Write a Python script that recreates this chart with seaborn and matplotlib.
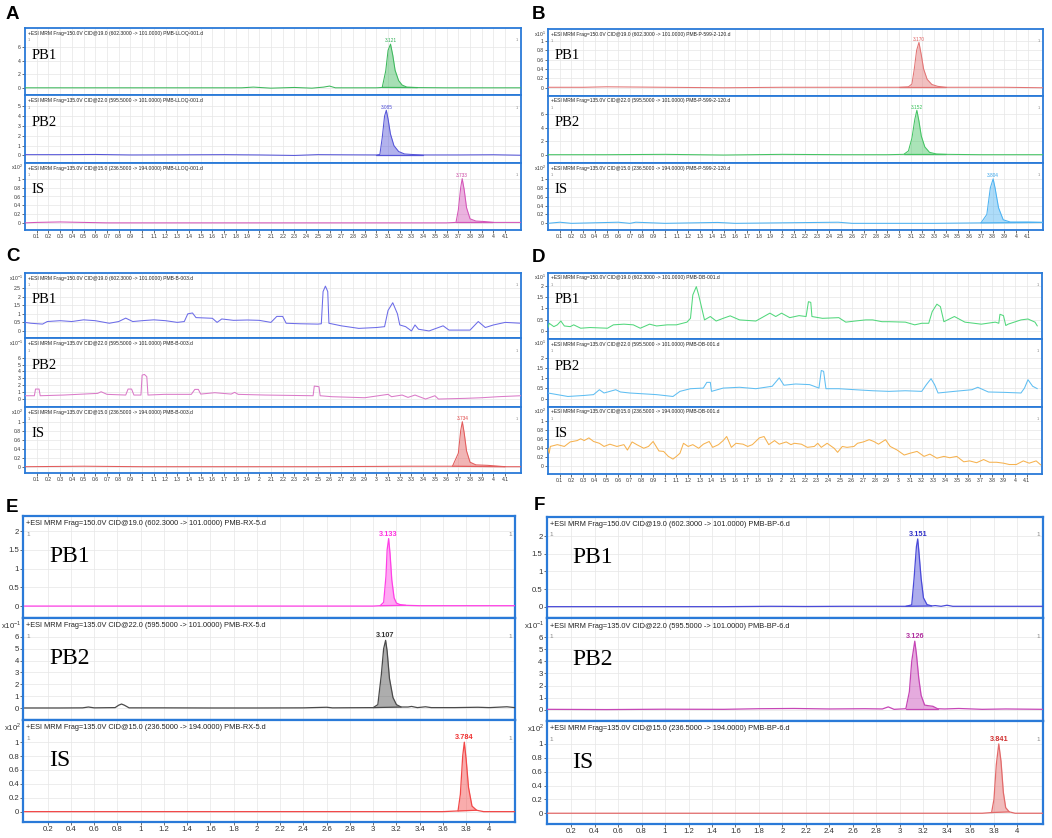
import numpy as np
import matplotlib.pyplot as plt
import seaborn as sns

# ---- chromatogram traces: retention time (min), intensity ----
# Panel A  (PMB-LLOQ-001)
a_pb1_t = [0, 0.5, 1.0, 1.5, 1.85, 1.95, 2.1, 2.3, 2.45, 2.55, 2.6, 2.65, 2.8, 3.0, 3.05,
           3.08, 3.1, 3.121, 3.14, 3.16, 3.19, 3.22, 3.26, 3.35, 3.6, 3.9, 4.235]
a_pb1_y = [0.05, 0.05, 0.05, 0.05, 0.05, 0.15, 0.0, 0.1, 0.0, 0.15, 0.3, 0.05, 0.05, 0.05, 0.1,
           2.5, 5.5, 6.4, 4.8, 2.6, 1.1, 0.45, 0.15, 0.08, 0.05, 0.05, 0.05]
a_pb2_t = [0, 0.3, 0.6, 0.9, 1.3, 1.7, 2.0, 2.3, 2.5, 2.8, 3.0, 3.03, 3.05, 3.07, 3.085,
           3.1, 3.12, 3.15, 3.19, 3.24, 3.3, 3.4, 3.7, 4.0, 4.235]
a_pb2_y = [0.08, 0.08, 0.1, 0.05, 0.06, 0.08, 0.05, 0.0, 0.08, 0.06, 0.05, 0.1, 1.8, 4.0, 4.6,
           3.7, 2.2, 1.0, 0.4, 0.15, 0.1, 0.05, 0.05, 0.07, 0.02]
a_is_t = [0, 0.1, 0.3, 0.5, 0.7, 1.5, 2.5, 3.3, 3.6, 3.68, 3.7, 3.72, 3.733, 3.75, 3.77,
          3.8, 3.85, 3.92, 4.0, 4.235]
a_is_y = [0.01, 0.02, 0.03, 0.02, 0.01, 0.01, 0.01, 0.01, 0.01, 0.02, 0.3, 0.8, 1.0, 0.75, 0.35,
          0.1, 0.05, 0.04, 0.02, 0.02]
a_rt = [3.121, 3.085, 3.733]

# Panel B  (PMB-P-599-2-120)
b_pb1_t = [0, 0.3, 0.5, 1.0, 1.5, 2.0, 2.5, 3.0, 3.08, 3.11, 3.13, 3.15, 3.17, 3.19, 3.21,
           3.24, 3.28, 3.33, 3.4, 3.6, 3.9, 4.235]
b_pb1_y = [0.01, 0.01, 0.02, 0.01, 0.0, 0.01, 0.01, 0.01, 0.02, 0.08, 0.4, 0.8, 0.97, 0.7, 0.4,
           0.18, 0.07, 0.03, 0.01, 0.01, 0.01, 0.0]
b_pb2_t = [0, 0.5, 1.0, 1.5, 2.0, 2.5, 2.9, 3.04, 3.08, 3.11, 3.135, 3.152, 3.17, 3.19, 3.22,
           3.26, 3.32, 3.4, 3.7, 4.0, 4.235]
b_pb2_y = [0.05, 0.05, 0.1, 0.0, 0.1, 0.05, 0.05, 0.1, 0.6, 2.5, 5.3, 6.6, 5.0, 2.8, 1.2,
           0.4, 0.15, 0.1, 0.05, 0.05, 0.05]
b_is_t = [0, 0.1, 0.2, 0.6, 0.7, 0.75, 1.0, 1.45, 1.6, 2.48, 2.6, 3.3, 3.7, 3.75, 3.78,
          3.804, 3.82, 3.85, 3.89, 3.95, 4.1, 4.235]
b_is_y = [0.0, 0.025, 0.0, 0.025, 0.0, 0.025, 0.0, 0.02, 0.0, 0.025, 0.0, 0.0, 0.01, 0.2, 0.8,
          1.0, 0.8, 0.35, 0.08, 0.03, 0.03, 0.02]
b_rt = [3.170, 3.152, 3.804]

# Panel C  (PMB-B-003)
c_pb1_t = [0.0, 0.05, 0.15, 0.19, 0.3, 0.4, 0.5, 0.6, 0.72, 0.8, 0.86, 0.92, 1.0, 1.1, 1.2,
           1.3, 1.36, 1.39, 1.43, 1.46, 1.6, 1.64, 1.68, 1.78, 1.9, 2.0, 2.1, 2.15, 2.2, 2.23,
           2.35, 2.5, 2.53, 2.545, 2.565, 2.585, 2.595, 2.7, 2.85, 3.0, 3.07, 3.1, 3.14, 3.18,
           3.2, 3.25, 3.3, 3.33, 3.36, 3.45, 3.57, 3.62, 3.8, 3.87, 3.93, 4.0, 4.1, 4.235]
c_pb1_y = [0.5, 0.45, 0.4, 0.55, 0.6, 0.55, 0.65, 0.6, 0.45, 0.55, 0.75, 0.55, 0.6, 0.65, 0.6,
           0.5, 0.55, 1.0, 1.05, 0.78, 0.74, 0.5, 0.7, 0.62, 0.64, 0.62, 0.5, 0.85, 0.85, 0.45,
           0.42, 0.4, 0.42, 2.3, 2.62, 2.3, 0.45, 0.3, 0.15, 0.2, 0.25, 1.2, 1.65, 1.0,
           0.35, 0.25, 0.0, 0.35, 0.1, 0.0, 0.3, 0.05, 0.05, 0.55, 0.2, 0.35, 0.5, 0.45]
c_pb2_t = [0.0, 0.08, 0.09, 0.12, 0.13, 0.33, 0.62, 0.65, 0.7, 0.86, 0.88, 0.91, 0.93, 0.99,
           1.0, 1.02, 1.04, 1.05, 1.19, 1.42, 1.45, 1.48, 1.5, 1.62, 1.76, 1.79, 1.82, 2.05,
           2.46, 2.47, 2.51, 2.52, 2.62, 2.9, 3.1, 3.13, 3.22, 3.27, 3.33, 3.42, 3.5, 3.53,
           3.76, 3.9, 4.04, 4.235]
c_pb2_y = [0.48, 0.48, 1.45, 1.45, 0.48, 0.58, 0.82, 1.06, 0.68, 0.58, 1.45, 1.45, 0.58, 0.58,
           3.48, 3.57, 3.24, 0.58, 0.68, 0.68, 1.4, 1.4, 0.72, 0.92, 0.72, 0.97, 0.68, 0.58,
           0.48, 1.88, 1.79, 0.48, 0.34, 0.19, 0.68, 0.34, 0.58, 0.24, 0.58, 0.0, 0.48, 0.0,
           0.1, 0.19, 0.34, 0.48]
c_is_t = [0, 0.5, 1.0, 1.5, 2.5, 3.3, 3.65, 3.7, 3.72, 3.734, 3.75, 3.77, 3.8, 3.85, 3.95,
          4.1, 4.235]
c_is_y = [0.0, 0.01, 0.0, 0.0, 0.0, 0.01, 0.01, 0.3, 0.8, 1.0, 0.75, 0.35, 0.1, 0.04, 0.03,
          0.0, 0.0]
c_rt = [None, None, 3.734]

# Panel D  (PMB-DB-001)
d_pb1_t = [0.0, 0.01, 0.05, 0.08, 0.11, 0.14, 0.19, 0.22, 0.28, 0.36, 0.51, 0.56, 0.65, 0.73,
           0.79, 0.87, 0.93, 1.02, 1.1, 1.19, 1.22, 1.24, 1.27, 1.29, 1.31, 1.34, 1.39, 1.44,
           1.5, 1.56, 1.64, 1.78, 1.9, 1.95, 2.0, 2.07, 2.15, 2.21, 2.23, 2.25, 2.26, 2.35,
           2.49, 2.55, 2.63, 2.72, 2.78, 2.86, 2.92, 3.06, 3.14, 3.2, 3.26, 3.29, 3.33, 3.36,
           3.39, 3.48, 3.57, 3.71, 3.83, 3.86, 3.87, 3.9, 3.92, 3.94, 4.05, 4.11, 4.17, 4.19]
d_pb1_y = [0.15, 0.34, 0.19, 0.27, 0.44, 0.22, 0.19, 0.27, 0.12, 0.15, 0.12, 0.27, 0.3, 0.27,
           0.12, 0.3, 0.22, 0.27, 0.27, 0.39, 0.56, 1.6, 1.97, 1.6, 1.16, 0.49, 0.64, 0.44,
           0.56, 0.67, 0.49, 0.44, 0.79, 0.64, 0.79, 0.59, 0.68, 0.64, 1.3, 1.27, 0.64, 0.56,
           0.59, 0.39, 0.44, 0.49, 0.49, 0.41, 0.41, 0.39, 0.27, 0.34, 0.34, 0.86, 1.19, 1.08,
           0.41, 0.64, 0.39, 0.3, 0.39, 0.34, 0.74, 0.68, 0.24, 0.3, 0.49, 0.53, 0.39, 0.22]
d_pb2_t = [0.0, 0.08, 0.17, 0.31, 0.39, 0.44, 0.48, 0.53, 0.58, 0.62, 0.7, 0.93, 1.07, 1.13,
           1.22, 1.33, 1.36, 1.39, 1.4, 1.5, 1.64, 1.78, 1.92, 1.98, 2.02, 2.12, 2.24, 2.32,
           2.34, 2.36, 2.38, 2.49, 2.63, 2.78, 2.92, 3.06, 3.2, 3.24, 3.28, 3.31, 3.34, 3.48,
           3.63, 3.68, 3.77, 3.91, 4.05, 4.08, 4.11, 4.15, 4.19]
d_pb2_y = [0.28, 0.2, 0.11, 0.16, 0.2, 0.44, 0.28, 0.36, 0.44, 0.33, 0.28, 0.2, 0.11, 0.36,
           0.49, 0.52, 0.8, 0.8, 0.36, 0.52, 0.56, 0.49, 0.61, 1.02, 0.66, 0.72, 0.69, 0.52,
           1.38, 1.34, 0.49, 0.49, 0.44, 0.39, 0.36, 0.39, 0.36, 0.69, 0.98, 0.69, 0.28, 0.36,
           0.44, 0.56, 0.33, 0.31, 0.28, 0.52, 0.93, 0.61, 0.49]
d_is_t = [0.0, 0.01, 0.02, 0.08, 0.14, 0.19, 0.25, 0.28, 0.31, 0.35, 0.39, 0.44, 0.48, 0.53,
          0.59, 0.65, 0.68, 0.72, 0.76, 0.82, 0.86, 0.9, 0.95, 0.99, 1.03, 1.07, 1.1, 1.13,
          1.16, 1.2, 1.24, 1.29, 1.33, 1.38, 1.41, 1.46, 1.5, 1.53, 1.57, 1.61, 1.67, 1.71,
          1.75, 1.81, 1.85, 1.89, 1.94, 1.98, 2.04, 2.08, 2.11, 2.17, 2.22, 2.28, 2.31, 2.34,
          2.39, 2.45, 2.48, 2.52, 2.56, 2.62, 2.65, 2.7, 2.75, 2.79, 2.83, 2.89, 2.93, 2.99,
          3.05, 3.1, 3.16, 3.22, 3.27, 3.33, 3.39, 3.44, 3.5, 3.56, 3.61, 3.67, 3.73, 3.78,
          3.84, 3.9, 3.95, 4.01, 4.07, 4.12, 4.18, 4.22]
d_is_y = [0.4, 0.29, 0.44, 0.48, 0.44, 0.54, 0.57, 0.61, 0.57, 0.63, 0.55, 0.51, 0.44, 0.49,
          0.44, 0.48, 0.36, 0.54, 0.48, 0.4, 0.44, 0.55, 0.34, 0.33, 0.22, 0.16, 0.22, 0.29,
          0.51, 0.44, 0.48, 0.4, 0.49, 0.55, 0.42, 0.48, 0.57, 0.66, 0.42, 0.51, 0.49, 0.44,
          0.48, 0.63, 0.66, 0.48, 0.57, 0.49, 0.54, 0.48, 0.51, 0.49, 0.42, 0.44, 0.51, 0.42,
          0.51, 0.4, 0.31, 0.44, 0.42, 0.44, 0.51, 0.54, 0.59, 0.55, 0.49, 0.59, 0.44, 0.36,
          0.25, 0.29, 0.33, 0.22, 0.27, 0.18, 0.22, 0.19, 0.22, 0.1, 0.12, 0.08, 0.15, 0.09,
          0.09, 0.07, 0.04, 0.04, 0.12, 0.07, 0.12, 0.03]
d_rt = [None, None, None]

# Panel E  (PMB-RX-5)
e_pb1_t = [0, 0.5, 1.0, 1.5, 2.0, 2.5, 3.0, 3.06, 3.09, 3.11, 3.12, 3.133, 3.145, 3.16, 3.18,
           3.2, 3.23, 3.28, 3.4, 3.6, 3.8, 4.0, 4.22]
e_pb1_y = [0.0, 0.0, 0.0, 0.0, 0.0, 0.0, 0.0, 0.01, 0.1, 0.8, 1.5, 1.8, 1.4, 0.7, 0.22,
           0.08, 0.04, 0.02, 0.01, 0.01, 0.01, 0.01, 0.01]
e_pb2_t = [0, 0.3, 0.5, 0.55, 0.6, 0.78, 0.81, 0.835, 0.86, 0.9, 1.2, 1.6, 2.0, 2.4, 2.6,
           2.65, 2.8, 3.0, 3.04, 3.07, 3.09, 3.107, 3.12, 3.14, 3.17, 3.2, 3.24, 3.3, 3.33,
           3.38, 3.45, 3.5, 3.7, 3.9, 4.0, 4.15, 4.22]
e_pb2_y = [0.02, 0.02, 0.03, 0.1, 0.03, 0.05, 0.25, 0.35, 0.25, 0.03, 0.03, 0.02, 0.02, 0.03,
           0.08, 0.03, 0.04, 0.05, 0.3, 2.8, 5.0, 5.7, 4.8, 2.5, 0.9, 0.3, 0.1, 0.1, 0.15,
           0.05, 0.12, 0.05, 0.05, 0.08, 0.05, 0.12, 0.05]
e_is_t = [0, 1.0, 2.0, 3.0, 3.6, 3.73, 3.75, 3.77, 3.784, 3.8, 3.82, 3.85, 3.89, 3.95, 4.22]
e_is_y = [0, 0, 0, 0, 0, 0.01, 0.25, 0.8, 1.0, 0.75, 0.35, 0.08, 0.02, 0.0, 0.0]
e_rt = [3.133, 3.107, 3.784]

# Panel F  (PMB-BP-6)
f_pb1_t = [0, 0.5, 1.0, 1.5, 1.9, 2.2, 2.5, 2.9, 3.05, 3.1, 3.12, 3.14, 3.151, 3.16, 3.18,
           3.2, 3.23, 3.27, 3.3, 3.35, 3.4, 3.45, 3.6, 3.9, 4.22]
f_pb1_y = [0, 0, 0, 0, 0.01, 0.005, 0.01, 0.01, 0.01, 0.05, 0.8, 1.7, 1.92, 1.6, 0.8,
           0.25, 0.06, 0.02, 0.03, 0.01, 0.04, 0.01, 0.01, 0.01, 0.01]
f_pb2_t = [0, 0.5, 1.0, 1.5, 1.8, 2.1, 2.4, 2.7, 2.85, 2.9, 2.95, 3.05, 3.08, 3.1, 3.126,
           3.14, 3.16, 3.18, 3.21, 3.24, 3.28, 3.32, 3.38, 3.5, 3.7, 3.9, 4.22]
f_pb2_y = [0.05, 0.03, 0.06, 0.05, 0.1, 0.12, 0.08, 0.1, 0.08, 0.25, 0.05, 0.1, 1.5, 4.0, 5.66,
           4.6, 2.6, 1.2, 0.4, 0.35, 0.3, 0.1, 0.08, 0.12, 0.05, 0.08, 0.05]
f_is_t = [0, 1.0, 2.0, 3.0, 3.7, 3.78, 3.8, 3.82, 3.841, 3.86, 3.88, 3.9, 3.93, 3.98, 4.22]
f_is_y = [0, 0, 0, 0, 0, 0.01, 0.2, 0.7, 1.0, 0.75, 0.3, 0.08, 0.02, 0, 0]
f_rt = [3.151, 3.126, 3.841]

compounds = ["PB1", "PB2", "IS"]
transitions = ["Frag=150.0V CID@19.0 (602.3000 -> 101.0000)",
               "Frag=135.0V CID@22.0 (595.5000 -> 101.0000)",
               "Frag=135.0V CID@15.0 (236.5000 -> 194.0000)"]

# ---- layout (pixel boxes of the original figure) ----
panels = [
    dict(letter="A", lxy=(6, 6), left=25, right=521, rows=[28.3, 95.5, 163, 230],
         xlim=(0, 4.235), xstep=0.1, big=False, sample="PMB-LLOQ-001.d",
         t=[a_pb1_t, a_pb2_t, a_is_t], y=[a_pb1_y, a_pb2_y, a_is_y], rt=a_rt,
         ylims=[(-1.07, 8.7), (-0.77, 6.1), (-0.15, 1.35)],
         yticks=[[0, 2, 4, 6], [0, 1, 2, 3, 4, 5], [0, 0.2, 0.4, 0.6, 0.8, 1]],
         exps=[None, None, 2],
         colors=["#3db85c", "#5555d8", "#d455b8"],
         tcolors=["#2fae55", "#4a4ad6", "#c8409f"]),
    dict(letter="B", lxy=(532, 6), left=548, right=1043, rows=[29.3, 95.7, 163.3, 230],
         xlim=(0, 4.23), xstep=0.1, big=False, sample="PMB-P-599-2-120.d",
         t=[b_pb1_t, b_pb2_t, b_is_t], y=[b_pb1_y, b_pb2_y, b_is_y], rt=b_rt,
         ylims=[(-0.17, 1.25), (-1.22, 8.75), (-0.15, 1.35)],
         yticks=[[0, 0.2, 0.4, 0.6, 0.8, 1], [0, 2, 4, 6], [0, 0.2, 0.4, 0.6, 0.8, 1]],
         exps=[1, None, 2],
         colors=["#e27474", "#44c463", "#4cb2f2"],
         tcolors=["#e05c5c", "#33c055", "#35a3ea"]),
    dict(letter="C", lxy=(6, 248), left=25, right=521, rows=[273.3, 338.3, 407.3, 473.3],
         xlim=(0, 4.235), xstep=0.1, big=False, sample="PMB-B-003.d",
         t=[c_pb1_t, c_pb2_t, c_is_t], y=[c_pb1_y, c_pb2_y, c_is_y], rt=c_rt,
         ylims=[(-0.43, 3.37), (-1.2, 8.82), (-0.147, 1.32)],
         yticks=[[0, 0.5, 1, 1.5, 2, 2.5], [0, 1, 2, 3, 4, 5, 6], [0, 0.2, 0.4, 0.6, 0.8, 1]],
         exps=[-1, -1, 2],
         colors=["#6c6ce8", "#da7ac8", "#e25c5c"],
         tcolors=[None, None, "#e04040"]),
    dict(letter="D", lxy=(532, 249), left=548, right=1042, rows=[272.7, 339, 406.7, 474],
         xlim=(0, 4.23), xstep=0.1, big=False, sample="PMB-DB-001.d",
         t=[d_pb1_t, d_pb2_t, d_is_t], y=[d_pb1_y, d_pb2_y, d_is_y], rt=d_rt,
         ylims=[(-0.36, 2.59), (-0.39, 2.92), (-0.17, 1.32)],
         yticks=[[0, 0.5, 1, 1.5, 2], [0, 0.5, 1, 1.5, 2], [0, 0.2, 0.4, 0.6, 0.8, 1]],
         exps=[1, 1, 2],
         colors=["#52d77c", "#5fbef2", "#f6b24f"],
         tcolors=[None, None, None]),
    dict(letter="E", lxy=(6, 499), left=23.3, right=515, rows=[515.7, 617.7, 720, 821.7],
         xlim=(-0.01, 4.22), xstep=0.2, big=True, sample="PMB-RX-5.d",
         t=[e_pb1_t, e_pb2_t, e_is_t], y=[e_pb1_y, e_pb2_y, e_is_y], rt=e_rt,
         ylims=[(-0.31, 2.41), (-0.99, 7.6), (-0.145, 1.32)],
         yticks=[[0, 0.5, 1, 1.5, 2], [0, 1, 2, 3, 4, 5, 6], [0, 0.2, 0.4, 0.6, 0.8, 1]],
         exps=[None, -1, 2],
         colors=["#ff40e6", "#4a4a4a", "#f24848"],
         tcolors=["#ff30e0", "#333333", "#f03030"]),
    dict(letter="F", lxy=(534, 497), left=546.7, right=1043.3, rows=[516.7, 618.3, 721, 824],
         xlim=(-0.007, 4.22), xstep=0.2, big=True, sample="PMB-BP-6.d",
         t=[f_pb1_t, f_pb2_t, f_is_t], y=[f_pb1_y, f_pb2_y, f_is_y], rt=f_rt,
         ylims=[(-0.33, 2.55), (-0.91, 7.54), (-0.155, 1.33)],
         yticks=[[0, 0.5, 1, 1.5, 2], [0, 1, 2, 3, 4, 5, 6], [0, 0.2, 0.4, 0.6, 0.8, 1]],
         exps=[None, -1, 2],
         colors=["#4a4ad8", "#c646b6", "#e26a6a"],
         tcolors=["#3030c8", "#b0309f", "#d03030"]),
]

sns.set_theme(style="white")
plt.rcParams["font.family"] = ["Liberation Sans", "DejaVu Sans"]
plt.rcParams["mathtext.fontset"] = "custom"
plt.rcParams["mathtext.rm"] = "Liberation Sans"

W, H = 1052, 838
fig = plt.figure(figsize=(W / 100, H / 100), dpi=100)
fig.patch.set_facecolor("white")

BLUE = "#2a7ad8"


def px_axes(left, top, right, bottom):
    return fig.add_axes([left / W, 1 - bottom / H, (right - left) / W, (bottom - top) / H])


def draw_peak(ax, t, y, color):
    # shade the integrated peak down to its baseline
    t = np.asarray(t, dtype=float)
    y = np.asarray(y, dtype=float)
    k = int(np.argmax(y))
    lo = k
    while lo > 0 and y[lo] > 0.02 * y[k]:
        lo -= 1
    hi = k
    while hi < len(y) - 1 and y[hi] > 0.02 * y[k]:
        hi += 1
    seg_t = t[lo:hi + 1]
    base = np.interp(seg_t, [t[lo], t[hi]], [y[lo], y[hi]])
    ax.fill_between(seg_t, y[lo:hi + 1], base, color=color, alpha=0.45, lw=0, zorder=2)
    ax.plot([t[lo], t[hi]], [y[lo], y[hi]], color=color, lw=0.9, zorder=3)
    return y[k]


for p in panels:
    big = p["big"]
    fs_tick = 5.6 if big else 3.6
    fs_head = 5.3 if big else 3.6
    fs_name = 17 if big else 10.5
    lw_line = 0.9 if big else 0.75
    name_x = 0.052 if big else 0.014

    fig.text(p["lxy"][0] / W, 1 - p["lxy"][1] / H, p["letter"], ha="left", va="top",
             fontsize=13.5, fontweight="bold", color="black")

    xticks = np.round(np.arange(p["xstep"], 4.1 + 1e-6, p["xstep"]), 2)
    rows = p["rows"]
    for i in range(3):
        ax = px_axes(p["left"], rows[i], p["right"], rows[i + 1])
        t, y = p["t"][i], p["y"][i]
        sns.lineplot(x=t, y=y, ax=ax, color=p["colors"][i], linewidth=lw_line,
                     errorbar=None, zorder=4)
        ax.set_xlim(*p["xlim"])
        ax.set_ylim(*p["ylims"][i])
        ax.set_xlabel("")
        ax.set_ylabel("")
        ax.set_xticks(xticks)
        ax.set_yticks(p["yticks"][i])
        ax.set_xticklabels([f"{v:g}" for v in xticks])
        ax.set_yticklabels([f"{v:g}" for v in p["yticks"][i]])
        ax.grid(True, color="#e6e6e6", linewidth=0.5, zorder=0)
        ax.set_axisbelow(True)
        ax.tick_params(axis="both", labelsize=fs_tick, colors="#333333", length=2,
                       width=0.5, pad=1, direction="out")
        ax.tick_params(axis="y", left=True)
        if i < 2:
            ax.tick_params(axis="x", labelbottom=False, bottom=False)
        else:
            ax.tick_params(axis="x", bottom=True)
        for s in ax.spines.values():
            s.set_color(BLUE)
            s.set_linewidth(1.6 if big else 1.3)

        # header line and small "1" markers
        ax.text(0.006, 0.925, "+ESI MRM " + transitions[i] + " " + p["sample"],
                transform=ax.transAxes, ha="left", va="center", fontsize=fs_head,
                color="#222222")
        ax.text(0.006, 0.82, "1", transform=ax.transAxes, ha="left", va="center",
                fontsize=fs_tick * 0.8, color="#888888")
        ax.text(0.994, 0.82, "1", transform=ax.transAxes, ha="right", va="center",
                fontsize=fs_tick * 0.8, color="#888888")
        if p["exps"][i] is not None:
            ax.text(-0.004, 0.93, "x10$^{%d}$" % p["exps"][i], transform=ax.transAxes,
                    ha="right", va="center", fontsize=fs_tick, color="#333333")

        ax.text(name_x, 0.6, compounds[i], transform=ax.transAxes, ha="left", va="center",
                fontsize=fs_name, family=["Liberation Serif", "DejaVu Serif"], color="black")

        rt = p["rt"][i]
        if rt is not None:
            top = draw_peak(ax, t, y, p["colors"][i])
            span = p["ylims"][i][1] - p["ylims"][i][0]
            ax.text(rt, top + 0.01 * span, f"{rt:.3f}", ha="center", va="bottom",
                    fontsize=fs_tick * 0.95, color=p["tcolors"][i],
                    fontweight="bold" if big else "normal")

fig.savefig("out.png", dpi=100, facecolor="white")
